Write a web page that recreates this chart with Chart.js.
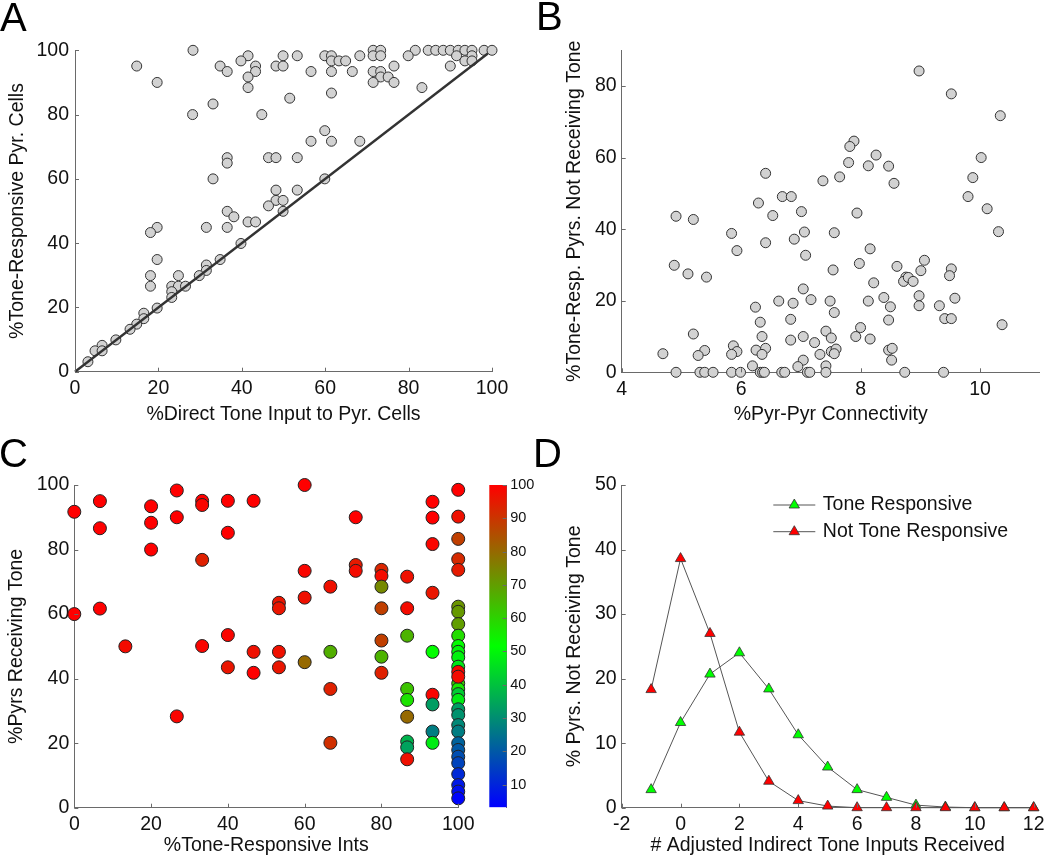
<!DOCTYPE html>
<html>
<head>
<meta charset="utf-8">
<script src="https://cdn.jsdelivr.net/npm/chart.js@4.4.1/dist/chart.umd.min.js"></script>
<style>
  html, body { margin: 0; padding: 0; background: #fff; }
  #fig { position: relative; width: 1050px; height: 859px; overflow: hidden;
         font-family: 'Liberation Sans', Arial, Helvetica, sans-serif; }
  #fig canvas { position: absolute; }
  .letter { position: absolute; font-size: 40px; line-height: 40px; color: #000; }
</style>
</head>
<body>
<div id="fig">
  <canvas id="chartA" width="525" height="430" style="left:0;top:0"></canvas>
  <canvas id="chartB" width="525" height="430" style="left:525px;top:0"></canvas>
  <canvas id="chartC" width="480" height="429" style="left:0;top:430px"></canvas>
  <canvas id="chartCbar" width="70" height="429" style="left:480px;top:430px"></canvas>
  <canvas id="chartD" width="525" height="429" style="left:525px;top:430px"></canvas>
  <div class="letter" style="left:0;top:-3px">A</div>
  <div class="letter" style="left:536px;top:-4px">B</div>
  <div class="letter" style="left:-1px;top:433px">C</div>
  <div class="letter" style="left:533px;top:433px">D</div>
</div>
<script>
// Figura de 4 paneles: A y B dispersión gris, C dispersión con mapa de color, D curvas con triángulos

const FONT = "'Liberation Sans', Arial, Helvetica, sans-serif";
Chart.defaults.font.family = FONT;
Chart.defaults.color = '#111';

// ---- Panel A ----
const aTicks = [0, 20, 40, 60, 80, 100];
const aDirect = [
  28.3, 71.5, 73.3, 81.6, 84.7, 86.5, 88.3, 90, 91.9, 93.5, 95.2, 98.1, 100,
  41.5, 49.9, 53.3, 59.9, 61.5, 68.3, 71.5, 73.3, 79.9, 91.5, 95.2,
  39.8, 61.5, 63.3, 64.9, 93.5, 95.2,
  14.8, 34.8, 43.3, 48.2, 49.9, 76.5, 90,
  36.5, 43.3, 56.6, 61.5, 66.5, 71.5, 73.3,
  41.5, 73.3, 75.1,
  19.7, 71.5, 76.5,
  41.5, 83.2,
  61.5, 51.5, 33.1, 28.2, 44.8, 59.9,
  56.6, 61.5, 68.3,
  36.5, 46.4, 48.2, 53.3,
  36.5, 33.1, 59.9, 48.2, 53.3, 48.2, 49.9, 46.4, 36.5, 49.9, 38.1,
  41.5, 43.3, 19.7, 31.5, 36.5, 18.1, 39.8, 19.7, 34.8, 31.5, 31.5,
  18.1, 24.8, 29.8, 18.1, 23.2, 24.8, 26.5, 23.2, 23.2, 19.7,
  16.5, 16.5, 14.8, 13.2, 9.8, 6.5, 4.8, 6.5, 3.1
];
const aResponsive = [
  100, 100, 100, 100, 100, 100, 100, 100, 100, 100, 100, 100, 100,
  98.3, 98.3, 98.3, 98.3, 98.3, 98.3, 98.3, 98.3, 98.3, 98.3, 98.3,
  96.7, 96.7, 96.7, 96.7, 96.7, 96.7,
  95.1, 95.1, 95.1, 95.1, 95.1, 95.1, 95.1,
  93.4, 93.4, 93.4, 93.4, 93.4, 93.4, 93.4,
  91.7, 91.7, 91.7,
  90, 90, 90,
  88.4, 88.4,
  86.7, 85.1, 83.3, 80, 80, 75,
  71.7, 71.7, 71.7,
  66.6, 66.6, 66.6, 66.6,
  64.9, 60, 60, 56.5, 56.5, 53.3, 53.3, 51.6, 49.9, 49.9, 48.2,
  46.6, 46.6, 44.9, 44.9, 44.9, 43.3, 39.9, 34.9, 34.9, 33.2, 31.5,
  29.9, 29.9, 29.9, 26.6, 26.6, 26.6, 26.6, 24.9, 23.1, 19.8,
  18.2, 16.5, 14.8, 13.2, 9.9, 8.2, 6.5, 6.5, 3.1
];
const aLineX = [0, 99];
const aLineY = [0, 99];

// ---- Panel B ----
const bTicksX = [4, 6, 8, 10];
const bTicksY = [0, 20, 40, 60, 80];
const bConnectivity = [
  8.98, 9.52, 10.34, 7.89, 7.82, 8.26, 10.02, 7.80, 8.13, 8.47,
  9.88, 7.65, 6.41, 7.37, 8.56, 6.29, 6.69, 6.84, 9.80, 10.12,
  7.01, 7.94, 6.53, 4.91, 5.20, 5.84, 7.06, 7.56, 10.31, 6.89,
  6.41, 5.93, 7.08, 8.16, 9.07, 7.98, 8.61, 4.88, 9.52, 9.01,
  7.54, 5.11, 5.42, 8.76, 9.49, 8.72, 8.80, 8.88, 8.22, 7.04,
  8.98, 7.17, 6.63, 7.49, 8.13, 8.39, 9.58, 6.87, 8.98, 9.32,
  8.50, 6.24, 7.56, 9.41, 9.52, 6.83, 8.47, 6.32, 10.37, 8.00,
  7.42, 5.20, 6.35, 7.04, 7.92, 7.51, 6.83, 8.16, 7.23, 5.87,
  5.93, 5.84, 5.39, 5.28, 4.69, 6.25, 6.41, 6.35, 7.32, 7.51,
  7.59, 7.56, 8.47, 8.53, 8.52, 7.04, 6.19, 6.95, 7.42,
  4.91, 5.31, 5.39, 5.53, 5.84, 5.99, 6.32, 6.36, 6.39, 6.68,
  6.73, 7.11, 7.15, 7.42, 8.74, 9.39
];
const bNotReceiving = [
  84.2, 77.8, 71.7, 64.6, 63.1, 60.7, 60.0, 58.6, 57.7, 57.6,
  54.4, 54.6, 55.6, 53.5, 52.8, 47.3, 49.1, 49.1, 49.1, 45.7,
  44.9, 44.5, 43.8, 43.6, 42.7, 38.8, 39.2, 39.0, 39.3, 37.2,
  36.2, 34.0, 32.7, 34.5, 31.3, 30.4, 29.6, 29.9, 28.9, 28.4,
  28.6, 27.5, 26.6, 26.6, 27.0, 25.4, 26.5, 25.4, 25.0, 23.3,
  21.4, 20.3, 19.9, 19.9, 19.9, 20.9, 20.7, 19.3, 18.6, 18.6,
  18.3, 18.2, 16.7, 15.0, 15.0, 14.8, 14.6, 14.0, 13.3, 12.5,
  11.5, 10.7, 10.0, 10.0, 10.0, 9.6, 9.0, 9.3, 8.3, 7.4,
  5.8, 5.0, 6.1, 4.7, 5.2, 6.2, 6.7, 5.0, 5.0, 5.8,
  6.5, 5.2, 6.2, 6.7, 3.4, 3.4, 1.8, 1.6, 1.8,
  0, 0, 0, 0, 0, 0, 0, 0, 0, 0,
  0, 0, 0, 0, 0, 0
];

// ---- Panel C ----
const cTicks = [0, 20, 40, 60, 80, 100];
const cToneInts = [
  0, 0, 6.67, 6.67, 6.67, 13.3, 20, 20, 20, 26.7, 26.7, 26.7,
  33.3, 33.3, 33.3, 33.3, 40, 40, 40, 40, 46.7, 46.7, 46.7,
  53.3, 53.3, 53.3, 53.3, 60, 60, 60, 60, 66.7, 66.7, 66.7, 66.7,
  73.3, 73.3, 73.3, 80, 80, 80, 80, 80, 80, 80,
  86.7, 86.7, 86.7, 86.7, 86.7, 86.7, 86.7, 86.7, 86.7,
  93.3, 93.3, 93.3, 93.3, 93.3, 93.3, 93.3, 93.3, 93.3,
  100, 100, 100, 100, 100, 100, 100, 100, 100, 100, 100, 100, 100, 100, 100, 100,
  100, 100, 100, 100, 100, 100, 100, 100, 100, 100, 100, 100, 100, 100, 100
];
const cPyrsReceiving = [
  91.7, 60, 95, 86.6, 61.7, 50, 93.4, 88.3, 80, 98.3, 90, 28.3,
  95.1, 93.8, 76.8, 50.1, 95.1, 85.2, 53.5, 43.5, 95.1, 48.3, 41.8,
  63.5, 61.8, 48.3, 43.5, 100, 73.4, 65.1, 45.1, 68.5, 48.3, 36.8, 20.1,
  90, 75.2, 73.4, 73.7, 71.8, 68.5, 61.8, 51.8, 46.8, 41.8,
  71.6, 61.8, 53.3, 36.8, 33.4, 28.2, 20.5, 18.7, 15,
  94.8, 89.9, 81.7, 66.6, 48.3, 35, 32, 23.6, 20.1,
  98.5, 90.2, 83.3, 77, 73.7, 62.3, 60.7, 56.9, 53.3, 50.1, 48.3, 46.6, 43.7, 38.5, 36.8, 35.2,
  33.4, 30.5, 28.7, 25.6, 23.6, 20, 17.9, 15.8, 13.8, 10.4, 7, 5, 2.9, 42.1, 40.6
];
const cColorValue = [
  100, 100, 100, 100, 100, 98, 100, 100, 100, 100, 100, 99,
  100, 99, 94, 99, 100, 100, 99, 96, 100, 97, 100,
  96, 96, 97, 96, 100, 99, 97, 80, 97, 67, 94, 91,
  100, 95, 98, 93, 98, 74, 88, 88, 66, 94,
  97, 98, 66, 63, 57, 80, 37, 34, 97,
  100, 100, 99, 96, 52, 99, 33, 27, 48,
  100, 97, 88, 92, 95, 72, 71, 70, 58, 52, 50, 49, 47, 62, 56, 42,
  48, 33, 31, 29, 27, 22, 20, 18, 16, 11, 8, 6, 4, 99, 98
];
const cbarTicks = [10, 20, 30, 40, 50, 60, 70, 80, 90, 100];
const cbarRange = [3.2, 100];
const cmapStops = [3.2, 51.6, 100];
const cmapColors = [[0, 0, 255], [0, 255, 0], [255, 0, 0]];

// ---- Panel D ----
const dTicksX = [-2, 0, 2, 4, 6, 8, 10, 12];
const dTicksY = [0, 10, 20, 30, 40, 50];
const dInputs = [-1, 0, 1, 2, 3, 4, 5, 6, 7, 8, 9, 10, 11, 12];
const dToneResp = [2.8, 13.2, 20.7, 24.0, 18.4, 11.3, 6.3, 2.8, 1.6, 0.4, 0.1, 0, 0, 0];
const dNotToneResp = [18.3, 38.6, 27.0, 11.7, 4.1, 1.1, 0.25, 0, 0, 0, 0, 0, 0, 0];

// ---------- utilidades ----------
function zip(xs, ys) {
  return xs.map((x, i) => ({ x: x, y: ys[i] }));
}

function cmap(v) {
  const i = v <= cmapStops[1] ? 0 : 1;
  const t = Math.min(1, Math.max(0, (v - cmapStops[i]) / (cmapStops[i + 1] - cmapStops[i])));
  const c = cmapColors[i].map((c0, k) => Math.round(c0 + (cmapColors[i + 1][k] - c0) * t));
  return 'rgb(' + c.join(',') + ')';
}

function axis(o) {
  return {
    type: 'linear',
    position: o.position,
    min: o.min,
    max: o.max,
    grid: { display: false, drawTicks: false },
    border: { display: true, color: '#6a6a6a', width: 1 },
    ticks: {
      color: '#111',
      font: { family: FONT, size: o.tickSize || 19.5 },
      padding: o.tickPad,
      autoSkip: false,
      maxRotation: 0
    },
    afterBuildTicks: s => { s.ticks = o.ticks.map(v => ({ value: v })); },
    afterFit: s => {
      if (s.isHorizontal()) s.height = o.size; else s.width = o.size;
    },
    title: o.title
      ? { display: true, text: o.title, color: '#111', font: { family: FONT, size: 19.5, lineHeight: 1.2 }, padding: o.titlePad }
      : { display: false }
  };
}

// marcas de eje hacia adentro, estilo MATLAB
const innerTicks = {
  id: 'innerTicks',
  afterDraw(chart) {
    const ctx = chart.ctx, a = chart.chartArea, len = 4;
    ctx.save();
    ctx.strokeStyle = '#6a6a6a';
    ctx.lineWidth = 1;
    Object.values(chart.scales).forEach(s => {
      if (!s.options.display) return;
      s.ticks.forEach(t => {
        const p = Math.round(s.getPixelForValue(t.value)) + 0.5;
        ctx.beginPath();
        if (s.isHorizontal()) { ctx.moveTo(p, a.bottom); ctx.lineTo(p, a.bottom - len); }
        else if (s.position === 'right') { ctx.moveTo(a.right, p); ctx.lineTo(a.right - len, p); }
        else { ctx.moveTo(a.left, p); ctx.lineTo(a.left + len, p); }
        ctx.stroke();
      });
    });
    ctx.restore();
  }
};

// leyenda con línea + marcador (panel D)
const lineLegend = {
  id: 'lineLegend',
  afterDraw(chart) {
    const ctx = chart.ctx, a = chart.chartArea;
    const x0 = a.left + 151.6, y0 = a.top + 20, rowGap = 26.7, lineLen = 42;
    ctx.save();
    chart.data.datasets.forEach((ds, i) => {
      const y = y0 + i * rowGap;
      ctx.strokeStyle = ds.borderColor;
      ctx.lineWidth = ds.borderWidth;
      ctx.beginPath();
      ctx.moveTo(x0, y);
      ctx.lineTo(x0 + lineLen, y);
      ctx.stroke();
      ctx.fillStyle = ds.pointBackgroundColor;
      ctx.strokeStyle = ds.pointBorderColor;
      ctx.lineWidth = ds.pointBorderWidth;
      Chart.helpers.drawPoint(ctx, { pointStyle: 'triangle', radius: ds.pointRadius, borderWidth: ds.pointBorderWidth, rotation: 0 }, x0 + lineLen / 2, y);
      ctx.fillStyle = '#111';
      ctx.font = '19.5px ' + FONT;
      ctx.textBaseline = 'middle';
      ctx.textAlign = 'left';
      ctx.fillText(ds.label, x0 + lineLen + 7.5, y);
    });
    ctx.restore();
  }
};

const base = {
  responsive: false,
  maintainAspectRatio: false,
  animation: false,
  events: [],
  plugins: { legend: { display: false }, tooltip: { enabled: false } }
};

// ---------- Panel A ----------
new Chart(document.getElementById('chartA'), {
  type: 'scatter',
  data: {
    datasets: [
      {
        type: 'line',
        data: zip(aLineX, aLineY),
        borderColor: '#333',
        borderWidth: 2.4,
        pointRadius: 0,
        clip: false
      },
      {
        data: zip(aDirect, aResponsive),
        pointRadius: 5,
        pointBackgroundColor: '#d2d2d2',
        pointBorderColor: '#333',
        pointBorderWidth: 1,
        clip: false
      }
    ]
  },
  options: Object.assign({}, base, {
    layout: { padding: { left: 0, top: 50.3, right: 33, bottom: 0 } },
    scales: {
      x: axis({ position: 'bottom', min: 0, max: 100, ticks: aTicks, size: 58.3, tickPad: 5.2,
                title: '%Direct Tone Input to Pyr. Cells', titlePad: { top: 0, bottom: 3.5 } }),
      y: axis({ position: 'left', min: 0, max: 100, ticks: aTicks, size: 75, tickPad: 6,
                title: '%Tone-Responsive Pyr. Cells', titlePad: { top: 6, bottom: 0 } })
    }
  }),
  plugins: [innerTicks]
});

// ---------- Panel B ----------
new Chart(document.getElementById('chartB'), {
  type: 'scatter',
  data: {
    datasets: [{
      data: zip(bConnectivity, bNotReceiving),
      pointRadius: 5,
      pointBackgroundColor: '#d2d2d2',
      pointBorderColor: '#333',
      pointBorderWidth: 1,
      clip: false
    }]
  },
  options: Object.assign({}, base, {
    layout: { padding: { left: 0, top: 50.2, right: 10.3, bottom: 0 } },
    scales: {
      x: axis({ position: 'bottom', min: 4, max: 11, ticks: bTicksX, size: 57.7, tickPad: 5.2,
                title: '%Pyr-Pyr Connectivity', titlePad: { top: 0, bottom: 3.5 } }),
      y: axis({ position: 'left', min: 0, max: 90, ticks: bTicksY, size: 96.7, tickPad: 5,
                title: '%Tone-Resp. Pyrs. Not Receiving Tone', titlePad: { top: 37.5, bottom: 0 } })
    }
  }),
  plugins: [innerTicks]
});

// ---------- Panel C ----------
new Chart(document.getElementById('chartC'), {
  type: 'scatter',
  data: {
    datasets: [{
      data: zip(cToneInts, cPyrsReceiving),
      pointRadius: 6.5,
      pointBackgroundColor: cColorValue.map(cmap),
      pointBorderColor: '#222',
      pointBorderWidth: 1,
      clip: false
    }]
  },
  options: Object.assign({}, base, {
    layout: { padding: { left: 0, top: 55, right: 16.4, bottom: 0 } },
    scales: {
      x: axis({ position: 'bottom', min: 0, max: 100, ticks: cTicks, size: 51.3, tickPad: 5.5,
                title: '%Tone-Responsive Ints', titlePad: { top: 0, bottom: 1.5 } }),
      y: axis({ position: 'left', min: 0, max: 100, ticks: cTicks, size: 74.3, tickPad: 5,
                title: '%Pyrs Receiving Tone', titlePad: { top: 5, bottom: 0 } })
    }
  }),
  plugins: [innerTicks]
});

// barra de color del panel C
new Chart(document.getElementById('chartCbar'), {
  type: 'bar',
  data: {
    labels: [''],
    datasets: [{
      data: [cbarRange],
      categoryPercentage: 1,
      barPercentage: 1,
      borderWidth: 0,
      backgroundColor: c => {
        const chart = c.chart;
        if (!chart.chartArea) return cmap(cbarRange[1]);
        const y = chart.scales.y;
        const y0 = y.getPixelForValue(cbarRange[0]), y1 = y.getPixelForValue(cbarRange[1]);
        const g = chart.ctx.createLinearGradient(0, y0, 0, y1);
        cmapStops.forEach((v, i) => {
          g.addColorStop((v - cbarRange[0]) / (cbarRange[1] - cbarRange[0]), 'rgb(' + cmapColors[i].join(',') + ')');
        });
        return g;
      }
    }]
  },
  options: Object.assign({}, base, {
    layout: { padding: { left: 9.3, top: 55, right: 0, bottom: 51.7 } },
    scales: {
      x: { display: false },
      y: axis({ position: 'right', min: cbarRange[0], max: cbarRange[1], ticks: cbarTicks, size: 43.3,
                tickPad: 3.5, tickSize: 14.5 })
    }
  }),
  plugins: [innerTicks]
});

// ---------- Panel D ----------
new Chart(document.getElementById('chartD'), {
  type: 'line',
  data: {
    datasets: [
      {
        label: 'Tone Responsive',
        data: zip(dInputs, dToneResp),
        order: 2,
        borderColor: '#555',
        borderWidth: 1,
        pointStyle: 'triangle',
        pointRadius: 6,
        pointBackgroundColor: 'rgb(0,255,0)',
        pointBorderColor: '#333',
        pointBorderWidth: 0.8,
        clip: false
      },
      {
        label: 'Not Tone Responsive',
        data: zip(dInputs, dNotToneResp),
        order: 1,
        borderColor: '#555',
        borderWidth: 1,
        pointStyle: 'triangle',
        pointRadius: 6,
        pointBackgroundColor: 'rgb(255,0,0)',
        pointBorderColor: '#333',
        pointBorderWidth: 0.8,
        clip: false
      }
    ]
  },
  options: Object.assign({}, base, {
    layout: { padding: { left: 0, top: 55, right: 10.3, bottom: 0 } },
    scales: {
      x: axis({ position: 'bottom', min: -2, max: 12, ticks: dTicksX, size: 51.3, tickPad: 5.5,
                title: '# Adjusted Indirect Tone Inputs Received', titlePad: { top: 0, bottom: 1.5 } }),
      y: axis({ position: 'left', min: 0, max: 50, ticks: dTicksY, size: 96.7, tickPad: 5,
                title: '% Pyrs. Not Receiving Tone', titlePad: { top: 37.5, bottom: 0 } })
    }
  }),
  plugins: [innerTicks, lineLegend]
});
</script>
</body>
</html>
